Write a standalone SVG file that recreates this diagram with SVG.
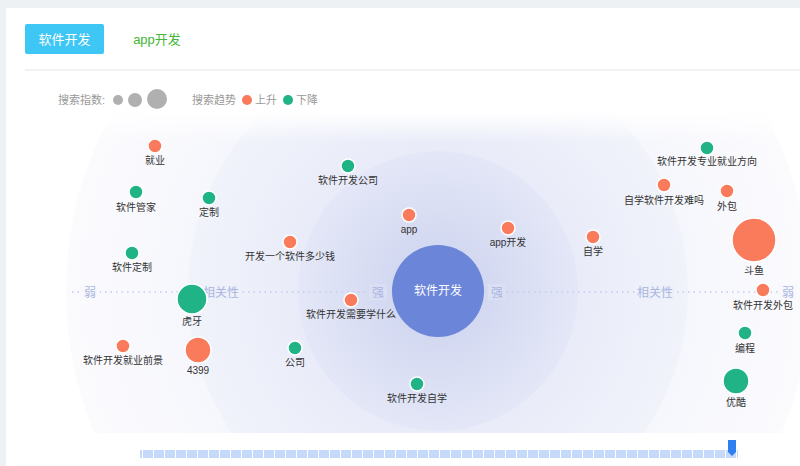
<svg xmlns="http://www.w3.org/2000/svg" width="800" height="466" viewBox="0 0 800 466">
<defs>
<style>
text{font-family:"Liberation Sans","Noto Sans CJK SC",sans-serif}
.lb{font-size:10px;fill:#333;text-anchor:middle}
.o{fill:#f97b5c;stroke:#fff;stroke-width:1.5}
.g{fill:#1fb386;stroke:#fff;stroke-width:1.5}
.ax{font-size:12px;fill:#aab5e0;text-anchor:middle}
.lg{font-size:11px;fill:#999}
</style>
<radialGradient id="r1" cx="0.5" cy="0.5" r="0.5"><stop offset="0.6" stop-color="#f5f6fc"/><stop offset="1" stop-color="#fbfbfe"/></radialGradient>
<radialGradient id="r2" cx="0.5" cy="0.5" r="0.5"><stop offset="0.5" stop-color="#e8ebf8"/><stop offset="1" stop-color="#f1f3fb"/></radialGradient>
<radialGradient id="r3" cx="0.5" cy="0.5" r="0.5"><stop offset="0.3" stop-color="#d2d8f1"/><stop offset="1" stop-color="#e4e7f7"/></radialGradient>
<linearGradient id="fade" x1="0" y1="0" x2="0" y2="1"><stop offset="0" stop-color="#fff" stop-opacity="1"/><stop offset="1" stop-color="#fff" stop-opacity="0"/></linearGradient>
<clipPath id="cp"><rect x="6" y="112" width="794" height="321"/></clipPath>
<pattern id="seg" width="11" height="8" patternUnits="userSpaceOnUse"><rect width="10" height="8" fill="#c5d9fa"/></pattern>
</defs>
<rect width="800" height="466" fill="#edf1f4"/>
<rect x="6" y="8" width="794" height="458" fill="#fff"/>
<g id="tabs">
<rect x="25" y="24" width="79" height="30" rx="2" fill="#3ec6f5"/>
<text x="64.5" y="44" font-size="13" fill="#fff" text-anchor="middle">软件开发</text>
<text x="157" y="44" font-size="13" fill="#44b734" text-anchor="middle">app开发</text>
<line x1="25" y1="70" x2="800" y2="70" stroke="#e4e4e4"/>
</g>
<g id="legend">
<text x="58" y="104" class="lg">搜索指数:</text>
<circle cx="118" cy="100" r="5" fill="#b0b0b0"/>
<circle cx="135" cy="100" r="7" fill="#b0b0b0"/>
<circle cx="157" cy="99" r="10" fill="#b0b0b0"/>
<text x="192" y="104" class="lg">搜索趋势</text>
<circle cx="247" cy="100" r="5" fill="#f97b5c"/>
<text x="255" y="104" class="lg">上升</text>
<circle cx="288" cy="100" r="5" fill="#1fb386"/>
<text x="296" y="104" class="lg">下降</text>
</g>
<g id="rings" clip-path="url(#cp)">
<circle cx="438" cy="291" r="372" fill="url(#r1)"/>
<circle cx="438" cy="291" r="250" fill="url(#r2)"/>
<circle cx="438" cy="291" r="140" fill="url(#r3)"/>
<rect x="6" y="112" width="794" height="30" fill="url(#fade)"/>
</g>
<g id="connectors">
<line x1="72" y1="292" x2="792" y2="292" stroke="#c3cbeb" stroke-width="1.5" stroke-dasharray="1.5 4"/>
</g>
<g id="axis">
<rect x="80" y="284" width="20" height="16" fill="#f9f9fd"/><text x="90" y="297" class="ax">弱</text>
<rect x="200" y="284" width="40" height="16" fill="#eef0fa"/><text x="221" y="297" class="ax">相关性</text>
<rect x="369" y="284" width="18" height="16" fill="#dadff4"/><text x="378" y="297" class="ax">强</text>
<rect x="488" y="284" width="18" height="16" fill="#dadff4"/><text x="497" y="297" class="ax">强</text>
<rect x="635" y="284" width="40" height="16" fill="#eef0fa"/><text x="655" y="297" class="ax">相关性</text>
<rect x="779" y="284" width="18" height="16" fill="#f9f9fd"/><text x="788" y="297" class="ax">弱</text>
</g>
<g id="center"><circle cx="438" cy="291" r="46" fill="#6b85d8"/><text x="438" y="295" font-size="12" fill="#fff" text-anchor="middle">软件开发</text></g>
<g id="n1"><circle cx="155" cy="146" r="7" class="o"/><text x="155" y="164" class="lb">就业</text></g>
<g id="n2"><circle cx="136" cy="192" r="7" class="g"/><text x="136" y="211" class="lb">软件管家</text></g>
<g id="n3"><circle cx="209" cy="198" r="7" class="g"/><text x="209" y="216" class="lb">定制</text></g>
<g id="n4"><circle cx="132" cy="253" r="7" class="g"/><text x="132" y="271" class="lb">软件定制</text></g>
<g id="n5"><circle cx="192" cy="299" r="15" class="g"/><text x="192" y="325" class="lb">虎牙</text></g>
<g id="n6"><circle cx="123" cy="346" r="7" class="o"/><text x="123" y="364" class="lb">软件开发就业前景</text></g>
<g id="n7"><circle cx="198" cy="350" r="13" class="o"/><text x="198" y="374" class="lb">4399</text></g>
<g id="n8"><circle cx="348" cy="166" r="7" class="g"/><text x="348" y="184" class="lb">软件开发公司</text></g>
<g id="n9"><circle cx="290" cy="242" r="7" class="o"/><text x="290" y="260" class="lb">开发一个软件多少钱</text></g>
<g id="n10"><circle cx="351" cy="300" r="7" class="o"/><text x="351" y="318" class="lb">软件开发需要学什么</text></g>
<g id="n11"><circle cx="295" cy="348" r="7" class="g"/><text x="295" y="366" class="lb">公司</text></g>
<g id="n12"><circle cx="417" cy="384" r="7" class="g"/><text x="417" y="402" class="lb">软件开发自学</text></g>
<g id="n13"><circle cx="409" cy="215" r="7" class="o"/><text x="409" y="233" class="lb">app</text></g>
<g id="n14"><circle cx="508" cy="228" r="7" class="o"/><text x="508" y="246" class="lb">app开发</text></g>
<g id="n15"><circle cx="593" cy="237" r="7" class="o"/><text x="593" y="255" class="lb">自学</text></g>
<g id="n16"><circle cx="707" cy="148" r="7" class="g"/><text x="707" y="165" class="lb">软件开发专业就业方向</text></g>
<g id="n17"><circle cx="664" cy="185" r="7" class="o"/><text x="664" y="204" class="lb">自学软件开发难吗</text></g>
<g id="n18"><circle cx="727" cy="191" r="7" class="o"/><text x="727" y="210" class="lb">外包</text></g>
<g id="n19"><circle cx="754" cy="240" r="22" class="o"/><text x="754" y="274" class="lb">斗鱼</text></g>
<g id="n20"><circle cx="763" cy="290" r="7" class="o"/><text x="763" y="309" class="lb">软件开发外包</text></g>
<g id="n21"><circle cx="745" cy="333" r="7" class="g"/><text x="745" y="352" class="lb">编程</text></g>
<g id="n22"><circle cx="736" cy="381" r="13" class="g"/><text x="736" y="406" class="lb">优酷</text></g>
<g id="slider">
<rect x="140" y="450" width="598" height="8" fill="url(#seg)"/>
<path d="M728 440h8v12l-4 4l-4-4z" fill="#2f7ff0"/>
</g>
</svg>
